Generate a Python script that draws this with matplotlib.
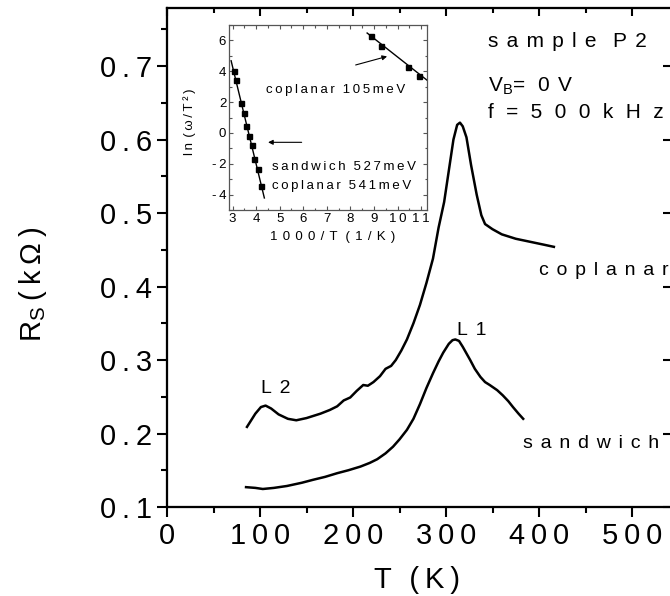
import numpy as np
import matplotlib as mpl
import matplotlib.pyplot as plt
from matplotlib.ticker import MultipleLocator, FuncFormatter

mpl.rcParams.update({
    "font.family": ["Liberation Sans", "DejaVu Sans"],
    "mathtext.fontset": "custom",
    "mathtext.rm": "Liberation Sans",
    "mathtext.it": "Liberation Sans:italic",
})

TS = "\u2009"  # thin space, the original uses wide letter spacing


def sp(s, n=1):
    return (TS * n).join(s)


# ---- main panel data ----
cop_T = [86, 95, 101, 106, 112, 120, 130, 139, 150, 165, 175, 183, 190, 197, 204,
         211, 216, 222, 229, 235, 241, 246, 252, 258, 265, 272, 279, 286, 292, 298,
         304, 308, 312, 315, 318, 322, 327, 333, 338, 342, 350, 360, 375, 390, 405, 416]
cop_R = [0.209, 0.227, 0.236, 0.238, 0.234, 0.226, 0.220, 0.218, 0.221, 0.227, 0.232,
         0.237, 0.245, 0.249, 0.258, 0.266, 0.265, 0.270, 0.278, 0.288, 0.292, 0.300,
         0.313, 0.328, 0.350, 0.375, 0.405, 0.438, 0.480, 0.515, 0.566, 0.600, 0.620,
         0.623, 0.618, 0.603, 0.565, 0.525, 0.497, 0.485, 0.478, 0.471, 0.465, 0.461,
         0.457, 0.454]

sand_T = [85, 95, 103, 115, 129, 145, 157, 170, 183, 195, 208, 218, 226, 235, 243, 250,
          258, 265, 272, 279, 286, 292, 297, 303, 307, 310, 314, 318, 322, 326, 331,
          337, 342, 347, 355, 361, 367, 372, 378, 383]
sand_R = [0.127, 0.126, 0.1245, 0.126, 0.1286, 0.133, 0.137, 0.141, 0.146, 0.150,
          0.155, 0.160, 0.165, 0.173, 0.182, 0.192, 0.205, 0.220, 0.240, 0.262, 0.282,
          0.298, 0.310, 0.322, 0.327, 0.328, 0.326, 0.318, 0.309, 0.300, 0.288, 0.277,
          0.270, 0.266, 0.259, 0.252, 0.244, 0.236, 0.227, 0.220]

# ---- inset data: ln(w/T^2) vs 1000/T ----
hi_x = [3.07, 3.16, 3.37, 3.47, 3.58, 3.69, 3.81, 3.93, 4.06, 4.22]
hi_y = [4.03, 3.41, 1.94, 1.29, 0.43, -0.18, -0.80, -1.69, -2.32, -3.42]
hi_fit_x = [2.94, 4.35]
hi_fit_y = [4.68, -4.22]

lo_x = [8.88, 9.30, 10.44, 10.93]
lo_y = [6.26, 5.61, 4.25, 3.67]
lo_fit_x = [8.71, 11.26]
lo_fit_y = [6.48, 3.41]

XLIM = (0, 545)
YLIM = (0.1, 0.779)

fig = plt.figure(figsize=(6.70, 5.96), dpi=100)
# right spine sits just past the right edge of the picture, as in the scan
ax = fig.add_axes([167 / 670, 89 / 596, 545 * 0.93 / 670, 499 / 596])

ax.plot(cop_T, cop_R, color="k", lw=1.8)
ax.plot(sand_T, sand_R, color="k", lw=1.8)

ax.set_xlim(*XLIM)
ax.set_ylim(*YLIM)
ax.xaxis.set_major_locator(MultipleLocator(100))
ax.xaxis.set_minor_locator(MultipleLocator(50))
ax.yaxis.set_major_locator(MultipleLocator(0.1))
ax.yaxis.set_minor_locator(MultipleLocator(0.05))
ax.xaxis.set_major_formatter(FuncFormatter(lambda v, p: sp(f"{v:.0f}")))
ax.yaxis.set_major_formatter(FuncFormatter(lambda v, p: sp(f"{v:.1f}")))
ax.tick_params(which="both", direction="out", width=1.5, labelsize=21, top=False, right=False)
ax.tick_params(which="major", length=7, pad=4)
ax.tick_params(which="minor", length=4)
for s in ax.spines.values():
    s.set_linewidth(1.5)

# top/right ticks point inwards (Origin style)
tx = ax.twiny()
tx.set_xlim(*XLIM)
tx.xaxis.set_major_locator(MultipleLocator(100))
tx.xaxis.set_minor_locator(MultipleLocator(50))
tx.tick_params(which="both", direction="in", width=1.5, labeltop=False)
tx.tick_params(which="major", length=6)
tx.tick_params(which="minor", length=3.5)
ty = ax.twinx()
ty.set_ylim(*YLIM)
ty.yaxis.set_major_locator(MultipleLocator(0.1))
ty.yaxis.set_minor_locator(MultipleLocator(0.05))
ty.tick_params(which="both", direction="in", width=1.5, labelright=False)
ty.tick_params(which="major", length=8)
ty.tick_params(which="minor", length=2.5)
for t in (tx, ty):
    for s in t.spines.values():
        s.set_linewidth(1.5)

ax.set_xlabel(sp("T") + TS * 3 + sp("(K)"), fontsize=21)
ax.xaxis.set_label_coords(250 / 507, -0.118)
ax.set_ylabel(r"$\mathregular{R_S}$" + TS + sp("(kΩ)"), fontsize=21)
ax.yaxis.set_label_coords(-118 / 507, 0.445)

# annotations
ax.text(100.7, 0.255, sp("L2", 2), fontsize=14)
ax.text(312, 0.334, sp("L1", 2), fontsize=14)
ax.text(400, 0.4156, sp("coplanar", 2), fontsize=14)
ax.text(383, 0.180, sp("sandwich", 2), fontsize=14)
ax.text(345, 0.7259, sp("sample", 2) + TS * 4 + sp("P2", 2), fontsize=15)
ax.text(345, 0.6646, r"$\mathregular{V_B}$" + "=" + TS * 3 + sp("0V", 2), fontsize=15)
ax.text(345, 0.629, sp("f=500kHz", 3), fontsize=15)

# ---- inset ----
ins = fig.add_axes([229 / 670, 386 / 596, 198 / 670, 185 / 596])
ins.plot(hi_fit_x, hi_fit_y, color="k", lw=1)
ins.plot(hi_x, hi_y, "s", color="k", ms=3.6)
ins.plot(lo_fit_x, lo_fit_y, color="k", lw=1)
ins.plot(lo_x, lo_y, "s", color="k", ms=3.6)

ins.annotate("", xy=(9.67, 5.01), xytext=(8.11, 4.36),
             arrowprops=dict(arrowstyle="-|>", color="k", lw=0.8, mutation_scale=7))
ins.annotate("", xy=(4.39, -0.61), xytext=(6.05, -0.61),
             arrowprops=dict(arrowstyle="-|>", color="k", lw=0.8, mutation_scale=7))

ins.text(4.44, 2.80, sp("coplanar") + TS * 3 + sp("105meV"), fontsize=9.5, va="center")
ins.text(4.69, -2.19, sp("sandwich") + TS * 3 + sp("527meV"), fontsize=9.5, va="center")
ins.text(4.69, -3.42, sp("coplanar") + TS * 3 + sp("541meV"), fontsize=9.5, va="center")

ins.set_xlim(2.85, 11.25)
ins.set_ylim(-5, 7)
ins.xaxis.set_major_locator(MultipleLocator(1))
ins.xaxis.set_minor_locator(MultipleLocator(0.5))
ins.yaxis.set_major_locator(MultipleLocator(2))
ins.yaxis.set_minor_locator(MultipleLocator(1))
ins.yaxis.set_major_formatter(FuncFormatter(lambda v, p: f"{v:.0f}".replace("-", "-" + TS)))
ins.xaxis.set_major_formatter(FuncFormatter(lambda v, p: sp(f"{v:.0f}")))
ins.tick_params(which="both", direction="in", top=True, right=True,
                labelsize=9.5, color="#555555", width=0.8, pad=2)
ins.tick_params(which="major", length=3)
ins.tick_params(which="minor", length=1.8)
for s in ins.spines.values():
    s.set_color("#555555")
    s.set_linewidth(0.9)
ins.set_xlabel(sp("1000/T", 2) + TS * 3 + sp("(1/K)", 2), fontsize=9.5)
ins.xaxis.set_label_coords(0.525, -0.115)
ins.set_ylabel(sp("ln") + TS * 2 + sp("(ω/T²)"), fontsize=9.5)
ins.yaxis.set_label_coords(-0.165, 0.476)

fig.savefig("out.png", dpi=100)
